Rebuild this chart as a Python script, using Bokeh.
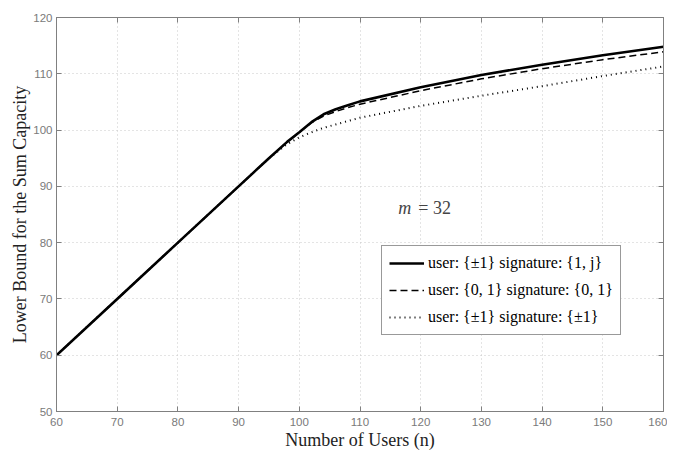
from bokeh.plotting import figure
from bokeh.models import Range1d, LinearAxis, Legend, LegendItem, Label, FixedTicker
from bokeh.embed import file_html
from bokeh.resources import INLINE

# Data
n_vals = [60, 70, 80, 90, 95, 98, 100, 102, 104, 106, 108, 110, 120, 130, 140, 150, 160]
cap_pm1_1j = [60, 70, 80, 90, 95, 97.9, 99.6, 101.4, 102.8, 103.7, 104.4, 105.1, 107.6, 109.8, 111.6, 113.3, 114.8]
cap_01_01 = [60, 70, 80, 90, 95, 97.9, 99.6, 101.3, 102.5, 103.3, 104.0, 104.6, 107.0, 109.1, 110.9, 112.5, 113.9]
cap_pm1_pm1 = [60, 70, 80, 90, 95, 97.5, 98.7, 99.6, 100.4, 101.0, 101.6, 102.2, 104.3, 106.1, 107.8, 109.6, 111.3]
x_ticks = [60, 70, 80, 90, 100, 110, 120, 130, 140, 150, 160]
y_ticks = [50, 60, 70, 80, 90, 100, 110, 120]
legend_labels = ["user: {\u00b11} signature: {1, j}",
                 "user: {0, 1} signature: {0, 1}",
                 "user: {\u00b11} signature: {\u00b11}"]
x_title = "Number of Users (n)"
y_title = "Lower Bound for the Sum Capacity"

SERIF = "Liberation Serif"
SANS = "Liberation Sans"
GRAY = "#808080"

p = figure(frame_width=607, frame_height=394, output_backend="svg", toolbar_location=None,
           x_range=Range1d(60, 160), y_range=Range1d(50, 120),
           min_border_left=56, min_border_right=4, min_border_top=17, min_border_bottom=45)

p.outline_line_color = GRAY
p.outline_line_width = 1

for ax in (p.xaxis[0], p.yaxis[0]):
    ax.major_tick_in = 5
    ax.major_tick_out = 0
    ax.minor_tick_line_color = None
    ax.axis_line_color = GRAY
    ax.major_tick_line_color = GRAY
    ax.major_label_text_color = "#7a7a7a"
    ax.major_label_text_font = SANS
    ax.major_label_text_font_size = "11.5px"
    ax.axis_label_text_font = SERIF
    ax.axis_label_text_font_style = "normal"
    ax.axis_label_text_font_size = "18px"
    ax.axis_label_text_color = "#222222"

p.xaxis[0].ticker = FixedTicker(ticks=x_ticks)
p.yaxis[0].ticker = FixedTicker(ticks=y_ticks)
p.xaxis[0].axis_label = x_title
p.yaxis[0].axis_label = y_title
p.xaxis[0].major_label_standoff = 6
p.yaxis[0].major_label_standoff = 4
p.xaxis[0].axis_label_standoff = 1
p.yaxis[0].axis_label_standoff = 0

for loc, tks in (("right", y_ticks), ("above", x_ticks)):
    ax = LinearAxis(ticker=FixedTicker(ticks=tks))
    ax.major_tick_in = 5
    ax.major_tick_out = 0
    ax.minor_tick_line_color = None
    ax.axis_line_color = GRAY
    ax.major_tick_line_color = GRAY
    ax.major_label_text_font_size = "0px"
    ax.major_label_text_alpha = 0
    ax.major_label_standoff = 0
    p.add_layout(ax, loc)

p.xgrid.ticker = FixedTicker(ticks=x_ticks)
p.ygrid.ticker = FixedTicker(ticks=y_ticks)
for g in (p.xgrid[0], p.ygrid[0]):
    g.grid_line_color = "#c8c8c8"
    g.grid_line_dash = "1 3"
    g.grid_line_width = 1

r1 = p.line(n_vals, cap_pm1_1j, line_color="black", line_width=2.6)
r2 = p.line(n_vals, cap_01_01, line_color="black", line_width=1.5, line_dash="7 4")
r3 = p.line(n_vals, cap_pm1_pm1, line_color="black", line_width=2, line_dash="1 4")

legend = Legend(items=[LegendItem(label=legend_labels[0], renderers=[r1]),
                       LegendItem(label=legend_labels[1], renderers=[r2]),
                       LegendItem(label=legend_labels[2], renderers=[r3])],
                location=(325, 76))
legend.label_text_font = SERIF
legend.label_text_font_size = "16px"
legend.label_text_color = "black"
legend.border_line_color = "#333333"
legend.border_line_width = 1
legend.background_fill_color = "white"
legend.background_fill_alpha = 1
legend.glyph_width = 35
legend.glyph_height = 20
legend.label_height = 20
legend.label_standoff = 4
legend.padding = 7
legend.spacing = 7
legend.margin = 0
p.add_layout(legend, "center")

p.add_layout(Label(x=116.3, y=86.2, text="m", text_font=SERIF, text_font_style="italic",
                   text_font_size="18px", text_baseline="middle", text_align="left"))
p.add_layout(Label(x=119.6, y=86.2, text="= 32", text_font=SERIF,
                   text_font_size="18px", text_baseline="middle", text_align="left"))

open("out.html", "w").write(file_html(p, INLINE))
